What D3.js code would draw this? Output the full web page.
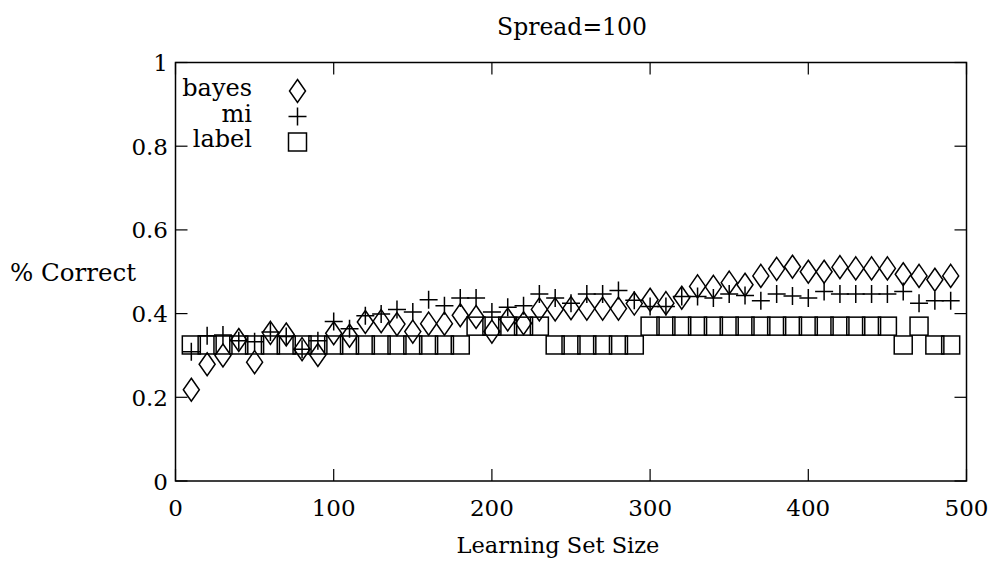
<!DOCTYPE html>
<html>
<head>
<meta charset="utf-8">
<script src="https://cdn.jsdelivr.net/npm/d3@7"></script>
<style>
  html, body { margin: 0; padding: 0; background: #fff; }
</style>
</head>
<body>
<svg id="chart" width="995" height="566"></svg>
<script>
const sizes = [10,20,30,40,50,60,70,80,90,100,110,120,130,140,150,160,170,180,190,200,
  210,220,230,240,250,260,270,280,290,300,310,320,330,340,350,360,370,380,390,400,
  410,420,430,440,450,460,470,480,490];
const bayes = [0.218,0.279,0.300,0.337,0.284,0.354,0.350,0.315,0.301,0.353,
  0.347,0.380,0.382,0.375,0.357,0.376,0.376,0.396,0.392,0.357,
  0.386,0.377,0.410,0.410,0.413,0.412,0.412,0.412,0.424,0.433,
  0.425,0.438,0.465,0.464,0.474,0.469,0.490,0.507,0.512,0.500,
  0.500,0.511,0.508,0.508,0.508,0.494,0.490,0.481,0.490];
const mi = [0.309,0.347,0.349,0.335,0.333,0.356,0.345,0.315,0.335,0.381,
  0.364,0.395,0.399,0.410,0.404,0.433,0.419,0.437,0.437,0.404,
  0.415,0.419,0.447,0.437,0.425,0.447,0.447,0.455,0.432,0.417,
  0.417,0.441,0.441,0.437,0.447,0.443,0.431,0.447,0.442,0.437,
  0.453,0.447,0.447,0.447,0.447,0.453,0.425,0.431,0.431];
const label = [0.325,0.325,0.325,0.325,0.325,0.325,0.325,0.325,0.325,0.325,
  0.325,0.325,0.325,0.325,0.325,0.325,0.325,0.325,0.370,0.370,
  0.370,0.370,0.370,0.325,0.325,0.325,0.325,0.325,0.325,0.370,
  0.370,0.370,0.370,0.370,0.370,0.370,0.370,0.370,0.370,0.370,
  0.370,0.370,0.370,0.370,0.370,0.325,0.370,0.325,0.325];
const xTicks = [0,100,200,300,400,500];
const yTicks = [0,0.2,0.4,0.6,0.8,1];
const yTickLabels = ["0","0.2","0.4","0.6","0.8","1"];
const seriesNames = ["bayes","mi","label"];
const titleText = "Spread=100";
const xTitle = "Learning Set Size";
const yTitle = "% Correct";

const FONT = "'DejaVu Serif', serif";
const svg = d3.select("#chart");
const L = 175.5, R = 966.5, T = 62.5, B = 481;
const x = d3.scaleLinear().domain([0,500]).range([L,R]);
const y = d3.scaleLinear().domain([0,1]).range([B,T]);
const FS = 23, tickLen = 12, sw = 1.5;

function txt(px, py, s, anchor, size) {
  return svg.append("text").attr("x",px).attr("y",py).attr("text-anchor",anchor)
    .attr("font-family",FONT).attr("font-size",size || FS).attr("fill","#000").text(s);
}

// frame
svg.append("rect").attr("x",L).attr("y",T).attr("width",R-L).attr("height",B-T)
  .attr("fill","none").attr("stroke","#000").attr("stroke-width",sw);

// ticks (inward, mirrored)
const tg = svg.append("g").attr("stroke","#000").attr("stroke-width",1.2);
xTicks.forEach(t => {
  tg.append("line").attr("x1",x(t)).attr("x2",x(t)).attr("y1",B).attr("y2",B-tickLen);
  tg.append("line").attr("x1",x(t)).attr("x2",x(t)).attr("y1",T).attr("y2",T+tickLen);
});
yTicks.forEach(t => {
  tg.append("line").attr("x1",L).attr("x2",L+tickLen).attr("y1",y(t)).attr("y2",y(t));
  tg.append("line").attr("x1",R).attr("x2",R-tickLen).attr("y1",y(t)).attr("y2",y(t));
});

// tick labels
xTicks.forEach(t => txt(x(t), 516, String(t), "middle"));
yTicks.forEach((t,i) => txt(168, y(t)+8.5, yTickLabels[i], "end"));

// titles
txt(572, 35, titleText, "middle", 23.5);
txt(558, 553, xTitle, "middle", 22.5);
txt(10, 281, yTitle, "start", 24.5);

// marker shapes
function diamond(g, cx, cy) {
  const w = 8, h = 11.5;
  g.append("path").attr("d",`M${cx},${cy-h}L${cx+w},${cy}L${cx},${cy+h}L${cx-w},${cy}Z`);
}
function plus(g, cx, cy) {
  const s = 9;
  g.append("path").attr("d",`M${cx-s},${cy}H${cx+s}M${cx},${cy-s}V${cy+s}`);
}
function square(g, cx, cy) {
  const s = 9;
  g.append("rect").attr("x",cx-s).attr("y",cy-s).attr("width",2*s).attr("height",2*s);
}
const shapes = [diamond, plus, square];
const data = [bayes, mi, label];

const mg = svg.append("g").attr("fill","none").attr("stroke","#000").attr("stroke-width",sw);
data.forEach((arr, si) => {
  arr.forEach((v, i) => shapes[si](mg, x(sizes[i]), y(v)));
});

// legend
const legY = [91, 116.5, 142];
seriesNames.forEach((n, i) => {
  txt(252, legY[i]+5, n, "end", 24);
  shapes[i](mg, 297.5, legY[i]);
});
</script>
</body>
</html>
